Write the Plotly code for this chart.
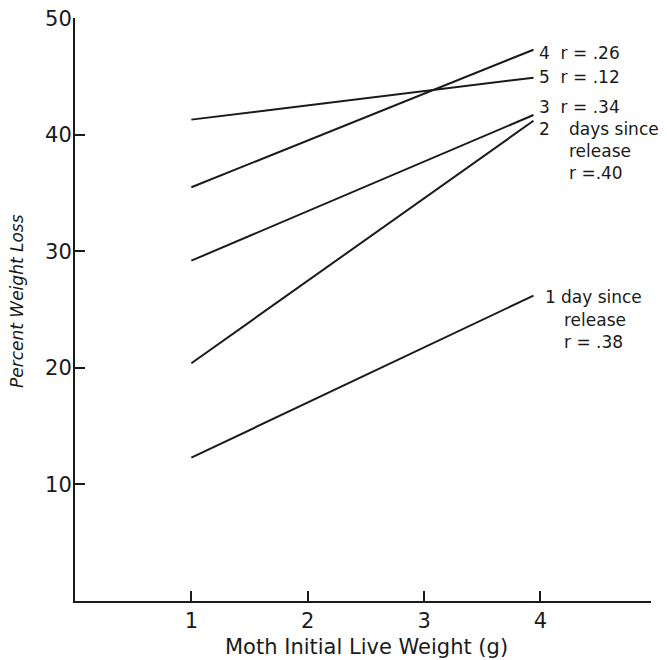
import plotly.graph_objects as go

# Data: regression lines, percent weight loss vs moth initial live weight (g)
days = ["1", "2", "3", "4", "5"]
x_start = [1, 1, 1, 1, 1]
x_end = [3.94, 3.94, 3.94, 3.94, 3.94]
y_start = [12.3, 20.4, 29.2, 35.5, 41.3]
y_end = [26.2, 41.2, 41.7, 47.3, 44.9]
r_values = [".38", ".40", ".34", ".26", ".12"]

x_ticks = [1, 2, 3, 4]
y_ticks = [10, 20, 30, 40, 50]

FONT = "DejaVu Sans"
INK = "#1a1a1a"
OFF = 8  # default page body margin
W, H = 667 - OFF, 660 - OFF
L, R, T, B = 75 - OFF, 16, 18 - OFF, 59

fig = go.Figure()
for i in range(len(days)):
    fig.add_trace(go.Scatter(
        x=[x_start[i], x_end[i]], y=[y_start[i], y_end[i]],
        mode="lines", line=dict(color=INK, width=2),
        showlegend=False, hoverinfo="skip"))

def px_to_paper(px, py):
    px -= OFF
    py -= OFF
    return (px - L) / (W - L - R), (H - B - py) / (H - T - B)

def ann(text, px, py, size=17, xanchor="left", angle=0):
    xp, yp = px_to_paper(px, py)
    fig.add_annotation(text=text, x=xp, y=yp, xref="paper", yref="paper",
                       xanchor=xanchor, yanchor="middle", align="left",
                       textangle=angle, showarrow=False,
                       font=dict(family=FONT, size=size, color=INK))

ann(days[3] + "&nbsp;&nbsp;r = " + r_values[3], 537, 53)
ann(days[4] + "&nbsp;&nbsp;r = " + r_values[4], 537, 77)
ann(days[2] + "&nbsp;&nbsp;r = " + r_values[2], 537, 107)
ann(days[1], 537, 129)
ann("days since<br>release<br>r =" + r_values[1], 567, 151)
ann(days[0], 543, 297)
ann("day since", 559, 297)
ann("release<br>r = " + r_values[0], 562, 331)

# axis titles
ann("Moth Initial Live Weight (g)", 366, 647, size=21, xanchor="center")
ann("<i>Percent Weight Loss</i>", 17, 301, size=17, xanchor="center", angle=-90)

fig.update_layout(
    width=W, height=H,
    margin=dict(l=L, r=R, t=T, b=B, pad=0, autoexpand=False),
    paper_bgcolor="white", plot_bgcolor="white",
    font=dict(family=FONT, size=21, color=INK),
    xaxis=dict(range=[0, 4.95], tickvals=x_ticks, ticks="inside", ticklen=10,
               tickwidth=1.5, tickcolor=INK, showline=True, linecolor=INK,
               linewidth=2, showgrid=False, zeroline=False, automargin=False,
               tickfont=dict(family=FONT, size=21, color=INK)),
    yaxis=dict(range=[0, 50.02], tickvals=y_ticks, ticks="inside", ticklen=10,
               tickwidth=1.5, tickcolor=INK, showline=True, linecolor=INK,
               linewidth=2, showgrid=False, zeroline=False, automargin=False,
               ticklabelstandoff=-3, ticklabeloverflow="allow",
               tickfont=dict(family=FONT, size=21, color=INK)),
)

fig.write_html("out.html")
